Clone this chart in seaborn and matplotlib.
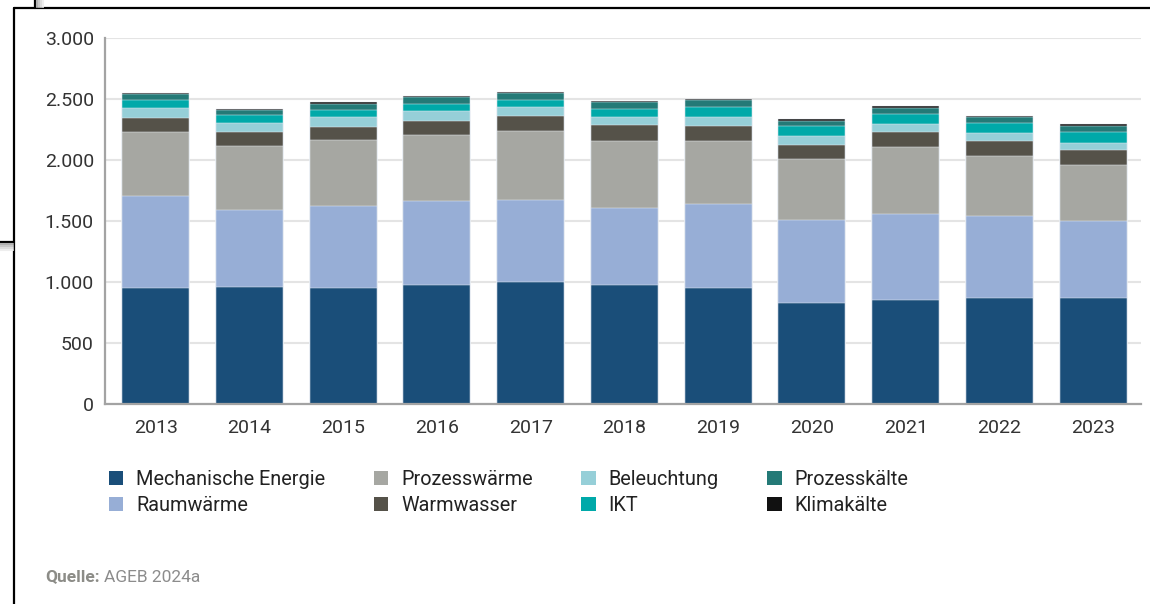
import matplotlib
matplotlib.use("Agg")
import matplotlib.pyplot as plt
from matplotlib.patches import Patch
from matplotlib.lines import Line2D
from matplotlib.ticker import FuncFormatter
import seaborn as sns
import pandas as pd
import numpy as np

years = ["2013", "2014", "2015", "2016", "2017", "2018", "2019", "2020", "2021", "2022", "2023"]

mechanische_energie = [950, 955, 953, 975, 997, 977, 953, 825, 849, 868, 868]
raumwaerme = [756, 634, 674, 685, 677, 631, 685, 682, 707, 674, 631]
prozesswaerme = [524, 524, 533, 549, 564, 549, 519, 500, 549, 492, 464]
warmwasser = [118, 115, 114, 114, 121, 126, 120, 117, 125, 120, 115]
beleuchtung = [82, 73, 77, 77, 73, 73, 74, 71, 66, 68, 65]
ikt = [60, 66, 59, 63, 63, 62, 84, 84, 82, 82, 85]
prozesskaelte = [55, 43, 53, 52, 53, 54, 53, 41, 49, 45, 49]
klimakaelte = [8, 8, 10, 10, 10, 10, 12, 14, 14, 15, 14]

labels = ["Mechanische Energie", "Raumwärme", "Prozesswärme", "Warmwasser",
          "Beleuchtung", "IKT", "Prozesskälte", "Klimakälte"]
series = [mechanische_energie, raumwaerme, prozesswaerme, warmwasser,
          beleuchtung, ikt, prozesskaelte, klimakaelte]
colors = ["#1a4e79", "#97aed6", "#a6a7a2", "#555249",
          "#96cfd8", "#00a9a9", "#247a77", "#111111"]

df = pd.DataFrame(dict(zip(labels, series)), index=years)
cum = df.cumsum(axis=1)

sns.set_style("white")
plt.rcParams["font.family"] = ["Roboto", "DejaVu Sans"]

W, H = 1150, 604
fig = plt.figure(figsize=(W / 100, H / 100), dpi=100)
ax = fig.add_axes([105 / W, 1 - 404 / H, (1141 - 105) / W, (404 - 38) / H])

# stacked bars: draw cumulative totals from the top layer down
for lab, col in reversed(list(zip(labels, colors))):
    sns.barplot(x=years, y=cum[lab].values, color=col, width=0.715, ax=ax,
                edgecolor="#e8edf3", linewidth=0.35, saturation=1, errorbar=None)

ax.set_ylim(0, 3000)
ax.set_xlim(-0.54, 10.51)
ax.set_yticks(np.arange(0, 3001, 500))
ax.yaxis.set_major_formatter(FuncFormatter(lambda v, p: f"{v:,.0f}".replace(",", ".")))
ax.grid(axis="y", color="#e4e4e4", linewidth=1.5)
ax.set_axisbelow(True)
for s in ["top", "right"]:
    ax.spines[s].set_visible(False)
for s in ["left", "bottom"]:
    ax.spines[s].set_color("#a3a3a3")
    ax.spines[s].set_linewidth(1.6)
ax.tick_params(axis="both", length=0, labelsize=14, colors="#333333")
ax.tick_params(axis="y", pad=8)
ax.tick_params(axis="x", pad=11)
ax.set_xlabel("")
ax.set_ylabel("")

handles = [Patch(facecolor=c, edgecolor="none", label=l) for l, c in zip(labels, colors)]
fig.legend(handles=handles, ncol=4, loc="upper left", bbox_to_anchor=(109 / W, 1 - 470 / H),
           frameon=False, fontsize=14.3, handlelength=0.72, handleheight=0.72,
           handletextpad=0.65, columnspacing=2.45, labelspacing=0.35,
           borderpad=0, borderaxespad=0, labelcolor="#222222")

# source line
t1 = fig.text(45 / W, 1 - 577 / H, "Quelle:", fontsize=12.5, fontweight="bold",
              color="#8c8c87", va="center", ha="left")
fig.canvas.draw()
bb = t1.get_window_extent(renderer=fig.canvas.get_renderer())
fig.text((bb.x1 + 4) / W, 1 - 577 / H, "AGEB 2024a", fontsize=12.5,
         color="#8c8c8c", va="center", ha="left")

# screenshot frame lines
def px_line(x0, y0, x1, y1, color="black", lw=1.6):
    fig.add_artist(Line2D([x0 / W, x1 / W], [1 - y0 / H, 1 - y1 / H],
                          transform=fig.transFigure, color=color, linewidth=lw))

px_line(14, 8, W, 8)
px_line(14, 8, 14, H)
px_line(35, 0, 35, 8)
px_line(0, 242, 14, 242)
for i, g in enumerate(["#b0b0b0", "#c8c8c8", "#dddddd", "#eeeeee"]):
    px_line(0, 244 + 2 * i, 13, 244 + 2 * i, color=g, lw=1.5)
    px_line(37 + 2 * i, 0, 37 + 2 * i, 7, color=g, lw=1.5)

fig.savefig("out.png", dpi=100)
